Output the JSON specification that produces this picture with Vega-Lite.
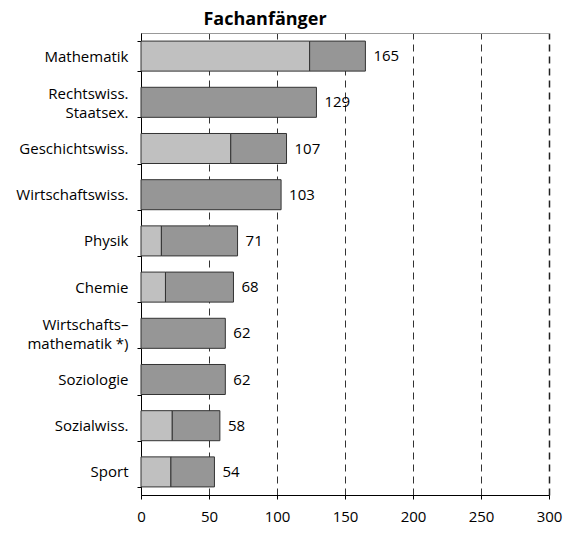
{
  "$schema": "https://vega.github.io/schema/vega-lite/v6.json",
  "width": 408,
  "height": 462,
  "autosize": {"type": "none"},
  "padding": {"left": 141, "top": 33, "right": 23, "bottom": 38},
  "background": "white",
  "config": {
    "view": {"stroke": null},
    "font": "Open Sans"
  },
  "title": {
    "text": "Fachanfänger",
    "font": "Open Sans",
    "fontSize": 18,
    "fontWeight": "bold",
    "color": "black",
    "anchor": "middle",
    "frame": "group",
    "baseline": "alphabetic",
    "offset": 6,
    "dy": 23,
    "dx": -80
  },
  "data": {
    "values": [
      {"fach": "Mathematik", "teil": "1", "wert": 124},
      {"fach": "Mathematik", "teil": "2", "wert": 41},
      {"fach": "Rechtswiss. Staatsex.", "teil": "2", "wert": 129},
      {"fach": "Geschichtswiss.", "teil": "1", "wert": 66},
      {"fach": "Geschichtswiss.", "teil": "2", "wert": 41},
      {"fach": "Wirtschaftswiss.", "teil": "2", "wert": 103},
      {"fach": "Physik", "teil": "1", "wert": 15},
      {"fach": "Physik", "teil": "2", "wert": 56},
      {"fach": "Chemie", "teil": "1", "wert": 18},
      {"fach": "Chemie", "teil": "2", "wert": 50},
      {"fach": "Wirtschaftsmathematik *)", "teil": "2", "wert": 62},
      {"fach": "Soziologie", "teil": "2", "wert": 62},
      {"fach": "Sozialwiss.", "teil": "1", "wert": 23},
      {"fach": "Sozialwiss.", "teil": "2", "wert": 35},
      {"fach": "Sport", "teil": "1", "wert": 22},
      {"fach": "Sport", "teil": "2", "wert": 32}
    ]
  },
  "resolve": {"axis": {"x": "independent"}},
  "encoding": {
    "y": {
      "field": "fach",
      "type": "nominal",
      "sort": ["Mathematik", "Rechtswiss. Staatsex.", "Geschichtswiss.", "Wirtschaftswiss.", "Physik", "Chemie", "Wirtschaftsmathematik *)", "Soziologie", "Sozialwiss.", "Sport"],
      "scale": {"paddingInner": 0.35, "paddingOuter": 0.175},
      "axis": {
        "title": null,
        "tickBand": "extent",
        "tickSize": 4,
        "tickColor": "black",
        "domainColor": "black",
        "labelPadding": 9,
        "labelFontSize": 15,
        "labelColor": "black",
        "labelLineHeight": 19,
        "labelOffset": {"condition": {"test": "datum.value == 'Rechtswiss. Staatsex.' || datum.value == 'Wirtschaftsmathematik *)'", "value": -9}, "value": 0},
        "labelExpr": "datum.label == 'Rechtswiss. Staatsex.' ? ['Rechtswiss.', 'Staatsex.\u00a0\u00a0'] : datum.label == 'Wirtschaftsmathematik *)' ? ['Wirtschafts–\u00a0\u00a0', 'mathematik *)'] : datum.label"
      }
    }
  },
  "layer": [
    {
      "mark": {"type": "bar", "stroke": "#333333", "strokeWidth": 1},
      "encoding": {
        "x": {
          "field": "wert",
          "type": "quantitative",
          "stack": "zero",
          "scale": {"domain": [0, 300], "nice": false},
          "axis": {
            "title": null,
            "orient": "bottom",
            "values": [0, 50, 100, 150, 200, 250, 300],
            "grid": true,
            "gridDash": [7, 5],
            "gridColor": {"condition": {"test": "datum.value == 300", "value": "#222222"}, "value": "#333333"},
            "gridWidth": {"condition": {"test": "datum.value == 300", "value": 1.5}, "value": 1},
            "tickSize": 4,
            "tickColor": "black",
            "domainColor": "black",
            "labelFlush": false,
            "labelPadding": 10,
            "labelFontSize": 15,
            "labelColor": "black"
          }
        },
        "color": {
          "field": "teil",
          "type": "nominal",
          "scale": {"domain": ["1", "2"], "range": ["#c0c0c0", "#969696"]},
          "legend": null
        },
        "order": {"field": "teil", "sort": "ascending"}
      }
    },
    {
      "mark": {"type": "text", "align": "left", "dx": 8, "fontSize": 15, "color": "black"},
      "encoding": {
        "x": {
          "aggregate": "sum",
          "field": "wert",
          "type": "quantitative",
          "scale": {"domain": [0, 300], "nice": false},
          "axis": {
            "orient": "top",
            "title": null,
            "labels": false,
            "ticks": false,
            "grid": false,
            "domainColor": "#999999"
          }
        },
        "text": {"aggregate": "sum", "field": "wert", "type": "quantitative"}
      }
    }
  ]
}
